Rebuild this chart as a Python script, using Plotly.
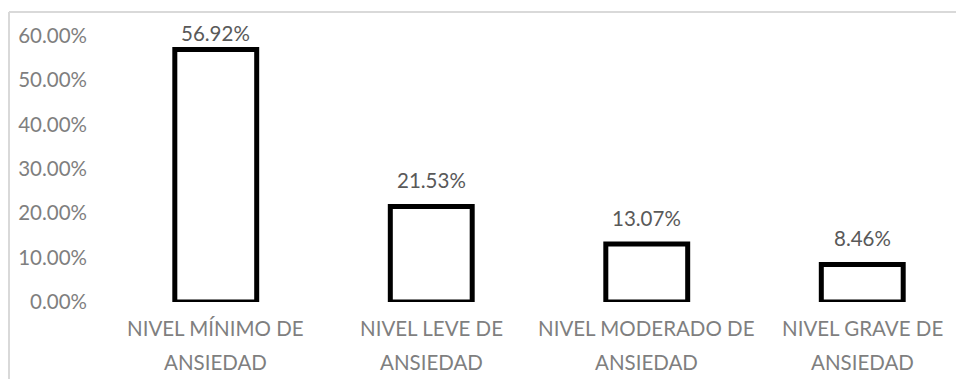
import plotly.graph_objects as go

# Distribution of anxiety levels
categories = [
    "NIVEL MÍNIMO DE\nANSIEDAD",
    "NIVEL LEVE DE\nANSIEDAD",
    "NIVEL MODERADO DE\nANSIEDAD",
    "NIVEL GRAVE DE\nANSIEDAD",
]
shares = [0.5692, 0.2153, 0.1307, 0.0846]
y_ticks = [0.0, 0.1, 0.2, 0.3, 0.4, 0.5, 0.6]

W, H = 956, 379
ML, MR, MT, MB = 108, 0, 18, 77
plot_w = W - ML - MR
plot_h = H - MT - MB
cat_px = 215.5  # pixel width of one category slot
Y_MAX = 0.64

FONT = "Lato"
AXIS_GRAY = "#7f7f7f"
LABEL_GRAY = "#595959"
FS = 20.5

fig = go.Figure(
    go.Bar(
        x=categories,
        y=shares,
        width=0.38,
        marker=dict(color="white", line=dict(color="black", width=5)),
        cliponaxis=False,
    )
)

def px_x(p):
    return (p - ML) / plot_w

def px_y(p):
    return (H - MB - p) / plot_h

def value_to_px(v):
    return H - MB - v / Y_MAX * plot_h

# value labels above each bar, kept inside the chart frame
for cat, v in zip(categories, shares):
    label_px = max(value_to_px(v) - 26, 32.5)
    fig.add_annotation(
        x=cat, xref="x", yref="paper", y=px_y(label_px), text=f"{v:.2%}",
        showarrow=False, yanchor="middle",
        font=dict(family=FONT, size=FS, color=LABEL_GRAY),
    )

# two-line category labels under the axis, with wide line spacing
for cat in categories:
    lines = cat.split("\n")
    for i, line in enumerate(lines):
        fig.add_annotation(
            x=cat, xref="x", yref="paper", y=px_y(328 + 34 * i),
            text=line, showarrow=False, yanchor="middle",
            font=dict(family=FONT, size=FS, color=AXIS_GRAY),
        )

frame = dict(color="#d9d9d9", width=2)
fig.add_shape(type="line", xref="paper", yref="paper",
              x0=px_x(9), x1=px_x(W + 5), y0=px_y(12), y1=px_y(12), line=frame)
fig.add_shape(type="line", xref="paper", yref="paper",
              x0=px_x(9), x1=px_x(9), y0=px_y(12), y1=px_y(H + 5), line=frame)

fig.update_layout(
    width=W,
    height=H,
    margin=dict(l=ML, r=MR, t=MT, b=MB),
    paper_bgcolor="white",
    plot_bgcolor="white",
    showlegend=False,
    xaxis=dict(
        type="category",
        range=[-0.5, -0.5 + plot_w / cat_px],
        showgrid=False,
        showline=False,
        zeroline=False,
        ticks="",
        showticklabels=False,
    ),
    yaxis=dict(
        range=[0, Y_MAX],
        tickvals=y_ticks,
        tickformat=".2%",
        showgrid=False,
        showline=False,
        zeroline=False,
        ticks="",
        tickfont=dict(family=FONT, size=FS, color=AXIS_GRAY),
        ticklabelstandoff=20,
    ),
)

fig.write_html("out.html")
